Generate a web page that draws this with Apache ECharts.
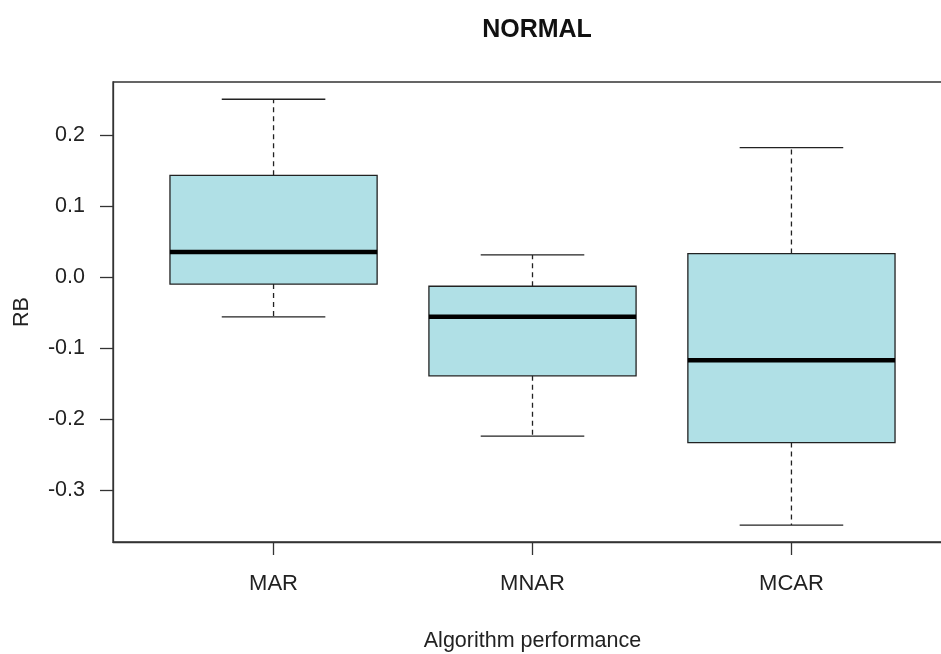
<!DOCTYPE html>
<html>
<head>
<meta charset="utf-8">
<script src="https://cdn.jsdelivr.net/npm/echarts@6/dist/echarts.min.js"></script>
<style>html,body{margin:0;padding:0;background:#fff;}#chart{width:941px;height:654px;}</style>
</head>
<body>
<div id="chart"></div>
<script>
const categories = ['MAR', 'MNAR', 'MCAR'];
const lowerWhisker = [-0.056, -0.224, -0.349];
const q1 = [-0.010, -0.139, -0.233];
const median = [0.035, -0.056, -0.117];
const q3 = [0.143, -0.013, 0.033];
const upperWhisker = [0.250, 0.031, 0.182];
const yTicks = [-0.3, -0.2, -0.1, 0.0, 0.1, 0.2];

const FONT = 'Liberation Sans, Arial, sans-serif';
const data = categories.map((c, i) => [i + 1, lowerWhisker[i], q1[i], median[i], q3[i], upperWhisker[i]]);

const chart = echarts.init(document.getElementById('chart'));
chart.setOption({
  backgroundColor: '#ffffff',
  animation: false,
  title: {
    text: 'NORMAL', left: 532, top: 13, textAlign: 'center',
    textStyle: { fontFamily: FONT, fontSize: 25, fontWeight: 'bold', color: '#111' }
  },
  grid: { left: 113, top: 82, width: 839, height: 460, show: true, borderColor: '#333', borderWidth: 1.3,
    backgroundColor: 'transparent', containLabel: false, outerBoundsMode: 'none' },
  xAxis: {
    type: 'value', min: 0.38, max: 3.62,
    name: 'Algorithm performance', nameLocation: 'middle', nameGap: 88,
    nameTextStyle: { fontFamily: FONT, fontSize: 21.5, color: '#222' },
    axisLine: { show: true, onZero: false, lineStyle: { color: '#333', width: 1.3 } },
    axisTick: { show: true, inside: false, length: 13, customValues: [1, 2, 3], lineStyle: { color: '#333', width: 1.3 } },
    axisLabel: { customValues: [1, 2, 3], margin: 31, fontFamily: FONT, fontSize: 22, color: '#222',
      formatter: v => categories[Math.round(v) - 1] || '' },
    splitLine: { show: false }
  },
  yAxis: {
    type: 'value', min: -0.3728, max: 0.2743,
    name: 'RB', nameLocation: 'middle', nameGap: 80, nameRotate: 90,
    nameTextStyle: { fontFamily: FONT, fontSize: 21.5, color: '#222' },
    axisLine: { show: true, onZero: false, lineStyle: { color: '#333', width: 1.3 } },
    axisTick: { show: true, inside: false, length: 13, customValues: yTicks, lineStyle: { color: '#333', width: 1.3 } },
    axisLabel: { customValues: yTicks, margin: 28, fontFamily: FONT, fontSize: 21.5, color: '#222',
      formatter: v => (Math.abs(v) < 1e-9 ? 0 : v).toFixed(1) },
    splitLine: { show: false }
  },
  series: [{
    type: 'custom',
    data: data,
    encode: { x: 0, y: [1, 2, 3, 4, 5] },
    clip: false,
    renderItem: function (params, api) {
      const x = api.value(0);
      const pLow = api.coord([x, api.value(1)]);
      const pQ1 = api.coord([x, api.value(2)]);
      const pMed = api.coord([x, api.value(3)]);
      const pQ3 = api.coord([x, api.value(4)]);
      const pHigh = api.coord([x, api.value(5)]);
      const boxW = api.size([0.8, 0])[0];
      const capW = api.size([0.4, 0])[0];
      const cx = pMed[0];
      const lineCol = '#222';
      return {
        type: 'group',
        children: [
          { type: 'line', shape: { x1: cx, y1: pQ3[1], x2: cx, y2: pHigh[1] }, style: { stroke: lineCol, lineWidth: 1.3, lineDash: [5, 4] } },
          { type: 'line', shape: { x1: cx, y1: pQ1[1], x2: cx, y2: pLow[1] }, style: { stroke: lineCol, lineWidth: 1.3, lineDash: [5, 4] } },
          { type: 'line', shape: { x1: cx - capW / 2, y1: pHigh[1], x2: cx + capW / 2, y2: pHigh[1] }, style: { stroke: lineCol, lineWidth: 1.3 } },
          { type: 'line', shape: { x1: cx - capW / 2, y1: pLow[1], x2: cx + capW / 2, y2: pLow[1] }, style: { stroke: lineCol, lineWidth: 1.3 } },
          { type: 'rect', shape: { x: cx - boxW / 2, y: pQ3[1], width: boxW, height: pQ1[1] - pQ3[1] }, style: { fill: '#b0e0e6', stroke: lineCol, lineWidth: 1.3 } },
          { type: 'line', shape: { x1: cx - boxW / 2, y1: pMed[1], x2: cx + boxW / 2, y2: pMed[1] }, style: { stroke: '#000', lineWidth: 4.5 } }
        ]
      };
    }
  }]
});
</script>
</body>
</html>
